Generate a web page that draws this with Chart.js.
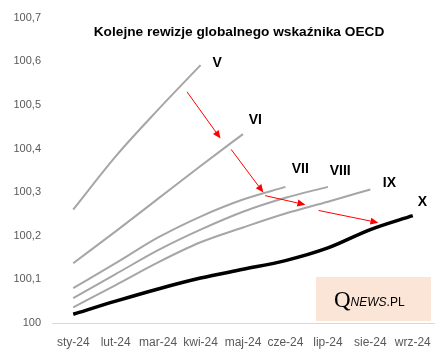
<!DOCTYPE html>
<html>
<head>
<meta charset="utf-8">
<script src="https://cdn.jsdelivr.net/npm/chart.js@4"></script>
<style>
html,body{margin:0;padding:0;background:#fff;}
#wrap{width:448px;height:357px;position:relative;}
</style>
</head>
<body>
<div id="wrap"><canvas id="c" width="448" height="357"></canvas></div>
<script>
const categories = ['sty-24','lut-24','mar-24','kwi-24','maj-24','cze-24','lip-24','sie-24','wrz-24'];
const rev5 = [100.26, 100.382, 100.489, 100.591];
const rev6 = [100.137, 100.21, 100.285, 100.36, 100.433];
const rev7 = [100.08, 100.137, 100.196, 100.244, 100.283, 100.312];
const rev8 = [100.057, 100.112, 100.167, 100.214, 100.255, 100.287, 100.312];
const rev9 = [100.036, 100.087, 100.139, 100.185, 100.219, 100.251, 100.278, 100.306];
const rev10 = [100.02, 100.05, 100.078, 100.103, 100.123, 100.143, 100.172, 100.214, 100.246];
const seriesNames = ['V','VI','VII','VIII','IX','X'];
const yTicks = [100, 100.1, 100.2, 100.3, 100.4, 100.5, 100.6, 100.7];
const yTickLabels = ['100','100,1','100,2','100,3','100,4','100,5','100,6','100,7'];
const titleText = 'Kolejne rewizje globalnego wskaźnika OECD';
// series label anchors (category index, value)
const labelIdx = [3.39, 4.29, 5.35, 6.29, 7.45, 8.23];
const labelVal = [100.595, 100.465, 100.353, 100.349, 100.321, 100.276];
// arrows in data units
const arrowFromIdx = [2.68, 3.72, 4.52, 5.78];
const arrowFromVal = [100.530, 100.398, 100.292, 100.258];
const arrowToIdx = [3.47, 4.48, 5.47, 7.19];
const arrowToVal = [100.423, 100.299, 100.271, 100.230];

const GREY = '#a6a6a6';
const FONT = "'Liberation Sans', Arial, sans-serif";

const overlay = {
  id: 'overlay',
  afterDatasetsDraw(chart) {
    const ctx = chart.ctx, xs = chart.scales.x, ys = chart.scales.y;
    ctx.save();
    // title
    ctx.fillStyle = '#000';
    ctx.font = "bold 13.7px " + FONT;
    ctx.textAlign = 'center';
    ctx.textBaseline = 'middle';
    ctx.fillText(titleText, 239, 32);
    // labels
    ctx.font = "bold 14px " + FONT;
    seriesNames.forEach((n, i) => {
      ctx.fillText(n, xs.getPixelForValue(labelIdx[i]), ys.getPixelForValue(labelVal[i]));
    });
    // arrows
    ctx.strokeStyle = '#ff0000';
    ctx.fillStyle = '#ff0000';
    ctx.lineWidth = 1;
    for (let i = 0; i < arrowFromIdx.length; i++) {
      const x1 = xs.getPixelForValue(arrowFromIdx[i]), y1 = ys.getPixelForValue(arrowFromVal[i]);
      const x2 = xs.getPixelForValue(arrowToIdx[i]), y2 = ys.getPixelForValue(arrowToVal[i]);
      const a = Math.atan2(y2 - y1, x2 - x1);
      const L = 8, W = 3.5;
      const bx = x2 - L * Math.cos(a), by = y2 - L * Math.sin(a);
      ctx.beginPath(); ctx.moveTo(x1, y1); ctx.lineTo(bx, by); ctx.stroke();
      ctx.beginPath();
      ctx.moveTo(x2, y2);
      ctx.lineTo(bx + W * Math.sin(a), by - W * Math.cos(a));
      ctx.lineTo(bx - W * Math.sin(a), by + W * Math.cos(a));
      ctx.closePath(); ctx.fill();
    }
    // logo
    const lx = 316, ly = 277, lw = 115, lh = 44;
    ctx.fillStyle = '#fbe5d6';
    ctx.fillRect(lx, ly, lw, lh);
    ctx.fillStyle = '#000';
    ctx.textAlign = 'left';
    ctx.textBaseline = 'alphabetic';
    ctx.font = "23px 'Liberation Serif', serif";
    ctx.fillText('Q', 334, 307);
    const qw = ctx.measureText('Q').width;
    ctx.font = "italic 12px " + FONT;
    ctx.fillText('NEWS', 334 + qw, 306);
    const nw = ctx.measureText('NEWS').width;
    ctx.font = "12px " + FONT;
    ctx.fillText('.PL', 334 + qw + nw, 306);
    ctx.restore();
  }
};

function ds(data, color, width) {
  return { data, borderColor: color, borderWidth: width, pointRadius: 0, fill: false, cubicInterpolationMode: 'monotone' };
}

new Chart(document.getElementById('c'), {
  type: 'line',
  data: {
    labels: categories,
    datasets: [
      ds(rev5, GREY, 2), ds(rev6, GREY, 2), ds(rev7, GREY, 2), ds(rev8, GREY, 2), ds(rev9, GREY, 2),
      ds(rev10, '#000', 3.5)
    ]
  },
  options: {
    responsive: false,
    animation: false,
    devicePixelRatio: 1,
    layout: { padding: { top: 16, right: 14, left: 0, bottom: 0 } },
    plugins: { legend: { display: false }, tooltip: { enabled: false }, title: { display: false } },
    scales: {
      x: {
        offset: true,
        grid: { display: false, drawTicks: false },
        border: { display: true, color: '#d9d9d9', width: 1 },
        ticks: { color: '#595959', font: { family: FONT, size: 12 }, padding: 12, maxRotation: 0, autoSkip: false },
        afterFit(s) { s.height = 34; }
      },
      y: {
        min: 100, max: 100.7,
        grid: { display: false, drawTicks: false },
        border: { display: false },
        afterBuildTicks(s) { s.ticks = yTicks.map(v => ({ value: v })); },
        ticks: {
          color: '#595959', font: { family: FONT, size: 11 }, padding: 11,
          callback(v) { const i = yTicks.findIndex(t => Math.abs(t - v) < 1e-6); return i >= 0 ? yTickLabels[i] : ''; }
        },
        afterFit(s) { s.width = 52; }
      }
    }
  },
  plugins: [overlay]
});
</script>
</body>
</html>
